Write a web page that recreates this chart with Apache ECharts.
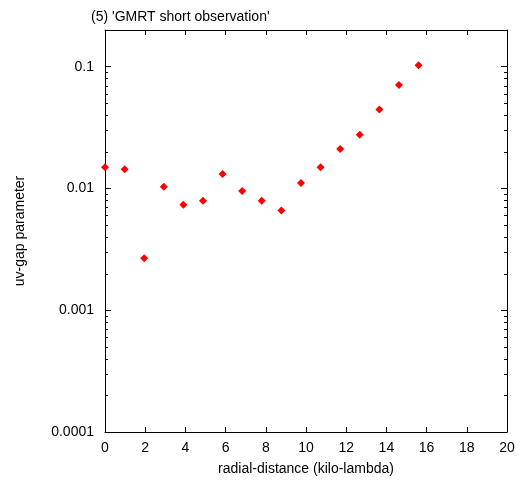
<!DOCTYPE html>
<html>
<head>
<meta charset="utf-8">
<script src="https://cdn.jsdelivr.net/npm/echarts@6/dist/echarts.min.js"></script>
<style>
html,body{margin:0;padding:0;background:#fff;}
#chart{width:521px;height:481px;}
</style>
</head>
<body>
<div id="chart"></div>
<script>
// ---- data ----
const titleText = "(5) 'GMRT short observation'";
const xName = "radial-distance (kilo-lambda)";
const yName = "uv-gap parameter";
const radialDistance = [0, 0.975, 1.95, 2.925, 3.9, 4.875, 5.85, 6.825, 7.8, 8.775, 9.75, 10.725, 11.7, 12.675, 13.65, 14.625, 15.6];
const uvGap = [0.0149, 0.01435, 0.00267, 0.01033, 0.00734, 0.00793, 0.01313, 0.00952, 0.00793, 0.0066, 0.01107, 0.0149, 0.0211, 0.0276, 0.0444, 0.0707, 0.1027];
const xMin = 0, xMax = 20, xStep = 2;
const yMin = 0.0001, yMax = 0.2;
const yDecades = [0.0001, 0.001, 0.01, 0.1];
const minorMultipliers = [2, 3, 4, 5, 6, 7, 8, 9];

const minorTicks = [];
yDecades.forEach(d => minorMultipliers.forEach(m => {
  const v = Number((d * m).toPrecision(6));
  if (v < yMax) minorTicks.push(v);
}));

const FONT = 'Liberation Sans, Arial, sans-serif';
const chart = echarts.init(document.getElementById('chart'), null, {renderer: 'canvas'});

function isDecade(v) {
  const l = Math.log10(v);
  return Math.abs(l - Math.round(l)) < 1e-6;
}

const commonX = {
  type: 'value', min: xMin, max: xMax, interval: xStep,
  axisLine: {show: true, onZero: false, lineStyle: {color: '#000', width: 1}},
  axisTick: {show: true, inside: true, length: 5, lineStyle: {color: '#000'}},
  splitLine: {show: false}
};
const commonY = {
  type: 'log', logBase: 10, min: yMin, max: yMax,
  axisLine: {show: true, onZero: false, lineStyle: {color: '#000', width: 1}},
  axisTick: {show: true, inside: true, length: 6, lineStyle: {color: '#000'}},
  splitLine: {show: false}
};

chart.setOption({
  animation: false,
  backgroundColor: '#fff',
  title: {
    text: titleText, left: 86, top: 5,
    textStyle: {fontFamily: FONT, fontSize: 14, fontWeight: 'normal', color: '#000'}
  },
  grid: {left: 105, right: 14, top: 30, bottom: 49, containLabel: false},
  xAxis: [
    Object.assign({}, commonX, {
      position: 'bottom',
      name: xName, nameLocation: 'middle', nameGap: 30,
      nameTextStyle: {fontFamily: FONT, fontSize: 14, color: '#000'},
      axisLabel: {show: true, margin: 9, fontFamily: FONT, fontSize: 14, color: '#000'}
    }),
    Object.assign({}, commonX, {position: 'top', axisLabel: {show: false}})
  ],
  yAxis: [
    Object.assign({}, commonY, {
      position: 'left',
      name: yName, nameLocation: 'middle', nameGap: 78, nameRotate: 90,
      nameTextStyle: {fontFamily: FONT, fontSize: 14, color: '#000'},
      axisLabel: {
        show: true, margin: 11, fontFamily: FONT, fontSize: 14, color: '#000',
        showMinLabel: true, showMaxLabel: true,
        formatter: v => isDecade(v) ? String(Number(v.toPrecision(6))) : ''
      }
    }),
    Object.assign({}, commonY, {position: 'right', axisLabel: {show: false}})
  ],
  series: [
    {
      type: 'custom', xAxisIndex: 0, yAxisIndex: 0, silent: true, z: 5,
      data: minorTicks.map(v => [xMin, v]),
      renderItem: (params, api) => {
        const cs = params.coordSys;
        const y = Math.round(api.coord([xMin, api.value(1)])[1]) + 0.5;
        return {
          type: 'group',
          children: [
            {type: 'line', shape: {x1: cs.x, y1: y, x2: cs.x + 3, y2: y}, style: {stroke: '#000', lineWidth: 1}},
            {type: 'line', shape: {x1: cs.x + cs.width - 3, y1: y, x2: cs.x + cs.width, y2: y}, style: {stroke: '#000', lineWidth: 1}}
          ]
        };
      }
    },
    {
      type: 'scatter', xAxisIndex: 0, yAxisIndex: 0, z: 10,
      symbol: 'diamond', symbolSize: 8,
      itemStyle: {color: '#ff0000', opacity: 1},
      data: radialDistance.map((x, i) => [x, uvGap[i]])
    }
  ]
});
</script>
</body>
</html>
